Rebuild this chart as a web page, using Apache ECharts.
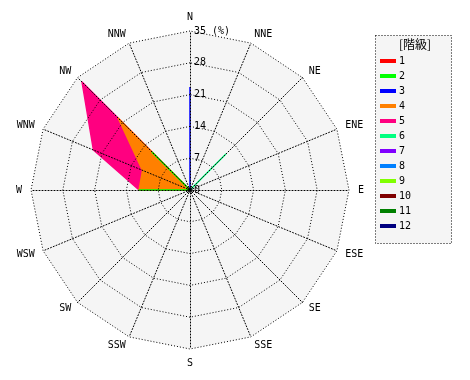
<!DOCTYPE html>
<html><head><meta charset="utf-8">
<script src="https://cdn.jsdelivr.net/npm/echarts@6/dist/echarts.min.js"></script>
<style>html,body{margin:0;padding:0;background:#fff}#c{width:470px;height:380px}</style>
</head><body><div id="c"></div>
<script>
// Directions in compass (clockwise) order
const directions = ['N','NNE','NE','ENE','E','ESE','SE','SSE','S','SSW','SW','WSW','W','WNW','NW','NNW'];
const classNames = ['1','2','3','4','5','6','7','8','9','10','11','12'];
const classColors = ['#ff0000','#00ff00','#0000ff','#ff8000','#ff0080','#00ff80','#8000ff','#0080ff','#80ff00','#800000','#008000','#000080'];
const radialTicks = [0,7,14,21,28,35];
const radialMax = 35;
// Frequency (%) per class, compass order
const class1  = [0,0,0,0,0,0,0,0,0,0,0,0,0,0,0,0];
const class2  = [0,0,0,0,0,0,0,0,0,0,0,0,11.2,0,11.7,0];
const class3  = [22.7,0,0,0,0,0,0,0,0,0,0,0,0,0,0,0];
const class4  = [0,0,0,0,0,0,0,0,0,0,0,0,11.2,11.3,22.3,0];
const class5  = [0,0,0,0,0,0,0,0,0,0,0,0,11.2,23.0,33.6,0];
const class6  = [0,0,11.1,0,0,0,0,0,0,0,0,0,0,0,0,0];
const class7  = [0,0,0,0,0,0,0,0,0,0,0,0,0,0,0,0];
const class8  = [0,0,0,0,0,0,0,0,0,0,0,0,0,0,0,0];
const class9  = [0,0,0,0,0,0,0,0,0,0,0,0,0,0,0,0];
const class10 = [0,0,0,0,0,0,0,0,0,0,0,0,0,0,0,0];
const class11 = [0,0,0,0,0,0,0,0,0,0,0,0,0,0,0,0];
const class12 = [0,0,0,0,0,0,0,0,0,0,0,0,0,0,0,0];
const classData = [class1,class2,class3,class4,class5,class6,class7,class8,class9,class10,class11,class12];

// ECharts radar lays indicators counterclockwise: reorder to get clockwise compass
const toRadarOrder = arr => [arr[0]].concat(arr.slice(1).reverse());

const FONT = 'DejaVu Sans Mono';
const CX = 190, CY = 190, R = 159;
const dotted = {color:'#000', width:1, type:[1,2]};

const indicators = toRadarOrder(directions).map(n => ({name:n, min:0, max:radialMax}));

const series = [];
for (let i = classNames.length - 1; i >= 0; i--) {
  series.push({
    type:'radar', radarIndex:0, name:classNames[i], symbol:'none', z:2,
    lineStyle:{color:classColors[i], width:1.5},
    areaStyle:{color:classColors[i], opacity:1},
    itemStyle:{color:classColors[i]},
    data:[{value:toRadarOrder(classData[i]), name:classNames[i]}]
  });
}
// centre dot of the rose
series.push({type:'scatter', coordinateSystem:'polar', data:[[0,0]], symbolSize:5, z:7, silent:true,
  itemStyle:{color:'#000'}});

const chart = echarts.init(document.getElementById('c'), null, {renderer:'canvas'});
chart.setOption({
  animation:false,
  backgroundColor:'#fff',
  textStyle:{fontFamily:FONT},
  radar:[{
    center:[CX,CY], radius:R, startAngle:90, shape:'polygon', splitNumber:5, z:0,
    indicator:indicators,
    axisName:{color:'#000', fontFamily:FONT, fontSize:10},
    nameGap:9,
    splitArea:{show:true, areaStyle:{color:['#f5f5f5']}},
    splitLine:{show:false},
    axisLine:{show:false},
    axisTick:{show:false}
  },{
    center:[CX,CY], radius:R, startAngle:90, shape:'polygon', splitNumber:5, z:5,
    indicator:indicators,
    axisName:{show:false},
    splitArea:{show:false},
    splitLine:{show:true, lineStyle:dotted},
    axisLine:{show:true, lineStyle:dotted},
    axisTick:{show:false}
  }],
  polar:{center:[CX,CY], radius:R},
  angleAxis:{show:false, startAngle:90, min:0, max:360},
  radiusAxis:{
    min:0, max:radialMax, interval:7, z:6,
    axisLine:{show:false}, axisTick:{show:false}, splitLine:{show:false},
    axisLabel:{color:'#000', fontFamily:FONT, fontSize:10, align:'left', margin:-4,
      formatter: v => radialTicks.indexOf(v) < 0 ? '' : (v === radialMax ? v + ' (%)' : String(v))}
  },
  legend:{
    orient:'vertical', left:375, top:51, icon:'rect', itemWidth:16, itemHeight:4, itemGap:5,
    data:classNames,
    textStyle:{color:'#000', fontFamily:FONT, fontSize:10, padding:[0,0,0,-2]},
    selectedMode:false
  },
  graphic:[
    {type:'rect', z:-1, shape:{x:375.5, y:35.5, width:76, height:208},
     style:{fill:'#f5f5f5', stroke:'#000', lineWidth:1, lineDash:[1,2]}},
    {type:'text', left:399, top:38, style:{text:'[階級]', fill:'#000', font:'12px "Noto Sans CJK JP"'}}
  ],
  series:series
});
</script></body></html>
